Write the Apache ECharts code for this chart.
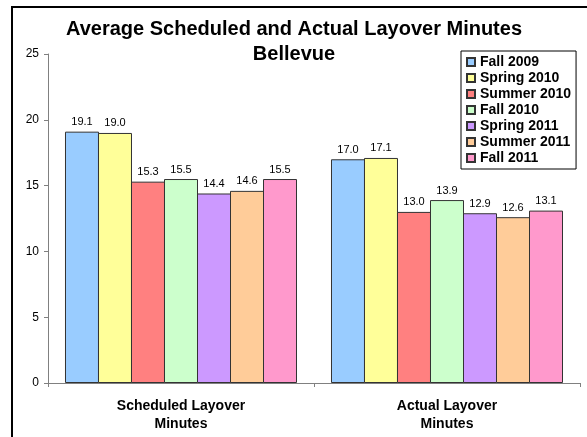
<!DOCTYPE html>
<html>
<head>
<meta charset="utf-8">
<script src="https://cdn.jsdelivr.net/npm/echarts@6/dist/echarts.min.js"></script>
<style>
html, body { margin: 0; padding: 0; background: #fff; }
#main { width: 587px; height: 437px; }
</style>
</head>
<body>
<div id="main"></div>
<script>
var categories = ['Scheduled Layover\nMinutes', 'Actual Layover\nMinutes'];
var seasons = ['Fall 2009', 'Spring 2010', 'Summer 2010', 'Fall 2010', 'Spring 2011', 'Summer 2011', 'Fall 2011'];
// one pair of values per season: [scheduled, actual]
var fall2009 = [19.1, 17.0];
var spring2010 = [19.0, 17.1];
var summer2010 = [15.3, 13.0];
var fall2010 = [15.5, 13.9];
var spring2011 = [14.4, 12.9];
var summer2011 = [14.6, 12.6];
var fall2011 = [15.5, 13.1];
var seasonValues = [fall2009, spring2010, summer2010, fall2010, spring2011, summer2011, fall2011];
var colors = ['#99CCFF', '#FFFF99', '#FF8080', '#CCFFCC', '#CC99FF', '#FFCC99', '#FF99CC'];

var font = '"Liberation Sans", Arial, sans-serif';

var series = seasons.map(function (name, i) {
    return {
        name: name,
        type: 'bar',
        data: seasonValues[i],
        barWidth: 34,
        barGap: '-2.94%',
        itemStyle: { color: colors[i], borderColor: '#333', borderWidth: 1 },
        label: {
            show: true,
            position: 'top',
            distance: 4,
            fontFamily: font,
            fontSize: 11,
            color: '#000',
            formatter: function (p) { return p.value.toFixed(1); }
        }
    };
});

var option = {
    animation: false,
    backgroundColor: '#fff',
    title: {
        text: 'Average Scheduled and Actual Layover Minutes\nBellevue',
        left: 289,
        top: 12,
        textAlign: 'center',
        textStyle: { fontFamily: font, fontSize: 20, fontWeight: 'bold', color: '#000', lineHeight: 25 }
    },
    legend: {
        orient: 'vertical',
        left: 461,
        top: 51,
        padding: [3, 5, 3, 5],
        itemGap: 0,
        itemWidth: 8,
        itemHeight: 8,
        icon: 'rect',
        borderColor: '#000',
        borderWidth: 1,
        backgroundColor: '#fff',
        textStyle: { fontFamily: font, fontSize: 14, fontWeight: 'bold', color: '#000', lineHeight: 16 },
        data: seasons
    },
    grid: { left: 48, right: 7, top: 54, bottom: 54, containLabel: false },
    xAxis: {
        type: 'category',
        data: categories,
        axisLine: { lineStyle: { color: '#808080', width: 1 } },
        axisTick: { show: true, length: 4, lineStyle: { color: '#808080' } },
        axisLabel: { margin: 14, fontFamily: font, fontSize: 14, fontWeight: 'bold', color: '#000', lineHeight: 18 }
    },
    yAxis: {
        type: 'value',
        min: 0,
        max: 25,
        interval: 5,
        splitLine: { show: false },
        axisLine: { show: true, lineStyle: { color: '#808080', width: 1 } },
        axisTick: { show: true, length: 4, lineStyle: { color: '#808080' } },
        axisLabel: { margin: 9, fontFamily: font, fontSize: 12, color: '#000' }
    },
    graphic: [{
        type: 'rect',
        shape: { x: 12, y: 7, width: 620, height: 470 },
        style: { fill: 'none', stroke: '#000', lineWidth: 2 },
        z: 100
    }],
    series: series
};

var myChart = echarts.init(document.getElementById('main'));
myChart.setOption(option);
</script>
</body>
</html>
